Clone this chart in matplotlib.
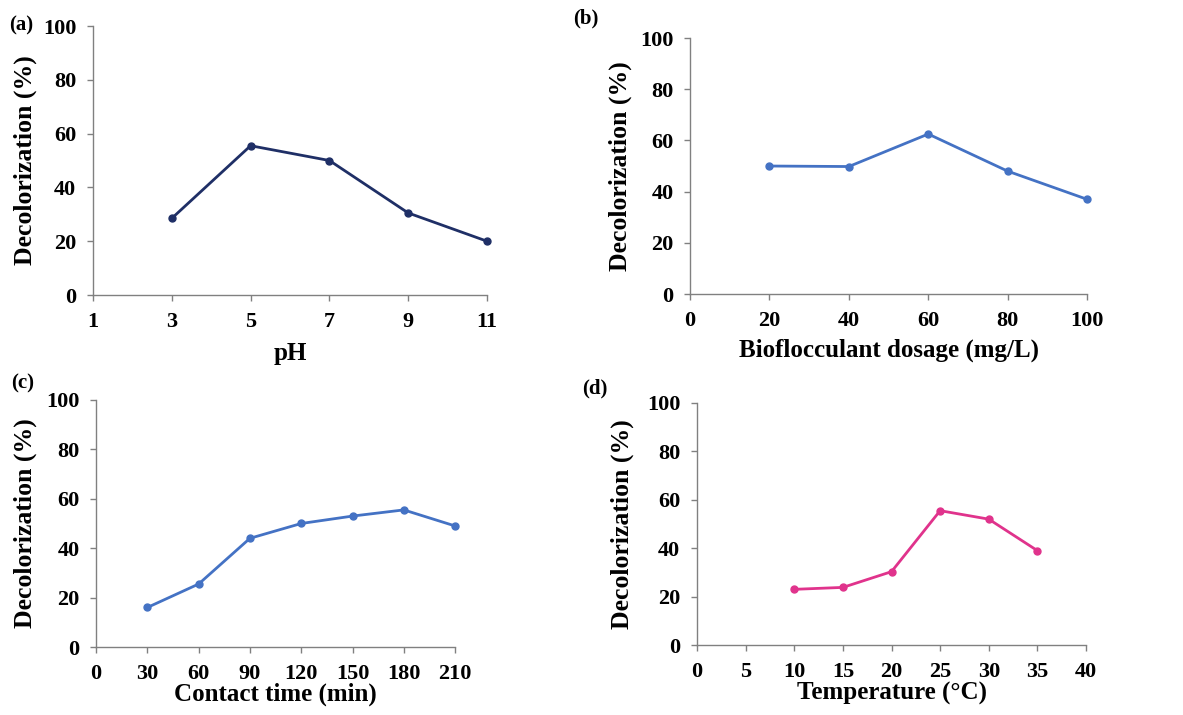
import matplotlib
matplotlib.use("Agg")
import matplotlib.pyplot as plt

plt.rcParams['font.family'] = ['Liberation Serif', 'DejaVu Serif']
plt.rcParams['font.weight'] = 'bold'

# (a) pH
ph = [3, 5, 7, 9, 11]
ph_dec = [28.5, 55.5, 50.0, 30.5, 20.0]
# (b) bioflocculant dosage
dose = [20, 40, 60, 80, 100]
dose_dec = [50.0, 49.8, 62.5, 48.0, 37.0]
# (c) contact time
ctime = [30, 60, 90, 120, 150, 180, 210]
ctime_dec = [16.0, 25.5, 44.0, 50.0, 53.0, 55.5, 49.0]
# (d) temperature
temp = [10, 15, 20, 25, 30, 35]
temp_dec = [23.0, 23.8, 30.3, 55.5, 52.0, 39.0]

fig = plt.figure(figsize=(11.83, 7.15), dpi=100)

panels = [
    # rect, x, y, colour, xlim, xticks, xlabel, xlabel y, ylabel x
    ([0.0786, 0.5874, 0.3331, 0.3762], ph, ph_dec, '#1f2f66', (1, 11),
     [1, 3, 5, 7, 9, 11], 'pH', -0.216, -0.173),
    ([0.5833, 0.5888, 0.3356, 0.3580], dose, dose_dec, '#4472c4', (0, 100),
     [0, 20, 40, 60, 80, 100], 'Bioflocculant dosage (mg/L)', -0.219, -0.176),
    ([0.0812, 0.0951, 0.3035, 0.3455], ctime, ctime_dec, '#4472c4', (0, 210),
     [0, 30, 60, 90, 120, 150, 180, 210], 'Contact time (min)', -0.19, -0.198),
    ([0.5892, 0.0979, 0.3288, 0.3385], temp, temp_dec, '#e0338c', (0, 40),
     [0, 5, 10, 15, 20, 25, 30, 35, 40], 'Temperature (°C)', -0.2, -0.193),
]

for rect, x, y, col, xlim, xt, xlab, xly, ylx in panels:
    ax = fig.add_axes(rect)
    ax.plot(x, y, color=col, linewidth=2.0, marker='o', markersize=5,
            clip_on=False)
    ax.set_xlim(*xlim)
    ax.set_ylim(0, 100)
    ax.set_xticks(xt)
    ax.set_yticks([0, 20, 40, 60, 80, 100])
    for s in ['top', 'right']:
        ax.spines[s].set_visible(False)
    for s in ['left', 'bottom']:
        ax.spines[s].set_color('#808080')
        ax.spines[s].set_linewidth(1.0)
    ax.tick_params(axis='both', colors='#808080', labelcolor='black',
                   length=4, width=1.0, labelsize=16, pad=8)
    ax.set_xlabel(xlab, fontsize=18, fontweight='bold')
    ax.set_ylabel('Decolorization (%)', fontsize=18.5, fontweight='bold')
    ax.xaxis.set_label_coords(0.5, xly)
    ax.xaxis.label.set_va('center')
    ax.yaxis.set_label_coords(ylx, 0.5)
    ax.yaxis.label.set_va('center')

labels = [('(a)', 9, 25), ('(b)', 573, 18), ('(c)', 11, 383), ('(d)', 582, 388)]
for txt, px, py in labels:
    fig.text(px / 1183, 1 - py / 715, txt, fontsize=15, fontweight='bold',
             ha='left', va='center')

fig.savefig('out.png', dpi=100)
